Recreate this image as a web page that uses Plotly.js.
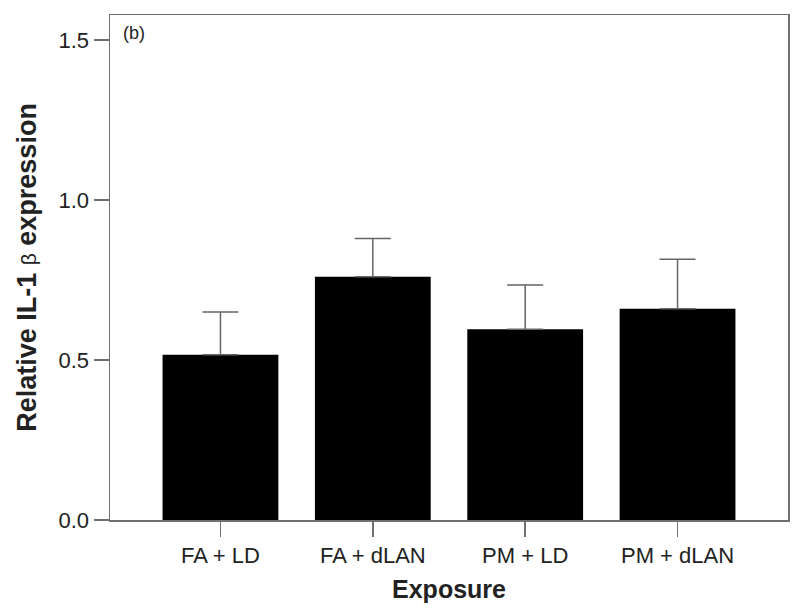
<!DOCTYPE html>
<html>
<head>
<meta charset="utf-8">
<script src="https://cdn.plot.ly/plotly-3.0.1.min.js"></script>
<style>html,body{margin:0;padding:0;background:#fff;}#chart{width:800px;height:613px;}</style>
</head>
<body>
<div id="chart"></div>
<script>
const categories = ["FA + LD", "FA + dLAN", "PM + LD", "PM + dLAN"];
const meanValues = [0.516, 0.760, 0.596, 0.660];
const errorValues = [0.134, 0.120, 0.138, 0.155];
const yTickValues = [0.0, 0.5, 1.0, 1.5];

const trace = {
  type: 'bar',
  x: categories,
  y: meanValues,
  width: 0.76,
  marker: {color: '#000000', line: {color: '#000000', width: 0}},
  error_y: {type: 'data', array: errorValues, symmetric: false, arrayminus: errorValues.map(() => 0), visible: true, color: '#666666', thickness: 1.5, width: 18},
  hoverinfo: 'none'
};

const layout = {
  width: 800, height: 613,
  margin: {l: 110, r: 12, t: 14.5, b: 92.5},
  paper_bgcolor: '#ffffff', plot_bgcolor: '#ffffff',
  showlegend: false,
  font: {family: 'Liberation Sans, Arial, sans-serif', color: '#222222'},
  xaxis: {
    type: 'category',
    range: [-0.725, 3.725],
    showline: true, mirror: true, linecolor: '#707070', linewidth: 1.5,
    ticks: 'outside', ticklen: 15, tickcolor: '#707070', tickwidth: 1.5,
    tickfont: {size: 22, color: '#222222'},
    showgrid: false, zeroline: false,
    title: {text: 'Exposure', font: {size: 25, weight: 'bold', color: '#222222'}, standoff: 13}
  },
  yaxis: {
    range: [0, 1.578],
    tickvals: yTickValues,
    tickformat: '.1f',
    showline: true, mirror: true, linecolor: '#707070', linewidth: 1.5,
    ticks: 'outside', ticklen: 15, tickcolor: '#707070', tickwidth: 1.5,
    tickfont: {size: 22, color: '#222222'},
    showgrid: false, zeroline: false,
    title: {text: '<b>Relative IL-1</b> <span style="font-size:21px">β</span> <b>expression</b>', font: {size: 27, color: '#222222'}, standoff: 14}
  },
  annotations: [{
    text: '(b)', xref: 'paper', yref: 'paper', x: 0.016, y: 0.988,
    xanchor: 'left', yanchor: 'top', showarrow: false,
    font: {size: 18, color: '#222222'}
  }]
};

Plotly.newPlot('chart', [trace], layout, {displayModeBar: false, staticPlot: true});
</script>
</body>
</html>
